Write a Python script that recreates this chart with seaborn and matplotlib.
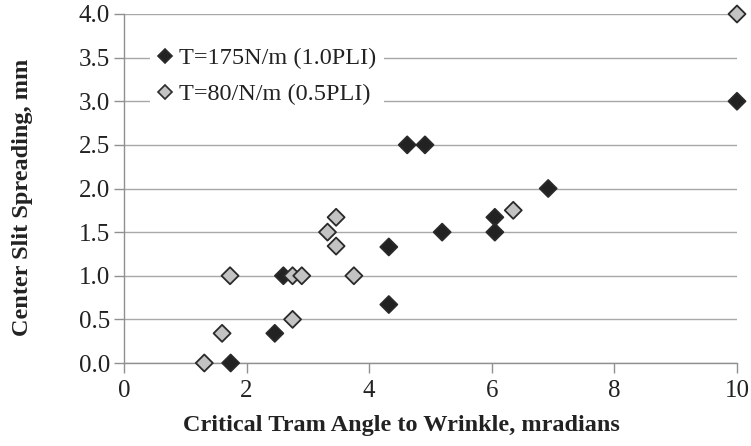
import matplotlib
matplotlib.use("Agg")
import matplotlib.pyplot as plt
import seaborn as sns
import pandas as pd
from matplotlib.ticker import FormatStrFormatter
from matplotlib.lines import Line2D

# Data
series_names = ["T=175N/m (1.0PLI)", "T=80/N/m (0.5PLI)"]
x_175 = [1.74, 2.46, 2.6, 4.32, 4.32, 4.62, 4.91, 5.19, 6.05, 6.05, 6.92, 10.0]
y_175 = [0.0, 0.34, 1.0, 1.33, 0.67, 2.5, 2.5, 1.5, 1.67, 1.5, 2.0, 3.0]
x_80 = [1.31, 1.6, 1.73, 2.75, 2.75, 2.9, 3.75, 3.32, 3.46, 3.46, 6.35, 10.0]
y_80 = [0.0, 0.34, 1.0, 0.5, 1.0, 1.0, 1.0, 1.5, 1.34, 1.67, 1.75, 4.0]
x_ticks = [0, 2, 4, 6, 8, 10]
y_ticks = [0.0, 0.5, 1.0, 1.5, 2.0, 2.5, 3.0, 3.5, 4.0]

df = pd.DataFrame({
    "x": x_175 + x_80,
    "y": y_175 + y_80,
    "series": [series_names[0]] * len(x_175) + [series_names[1]] * len(x_80),
})

sns.set_theme(style="white")
plt.rcParams["font.family"] = ["Liberation Serif", "DejaVu Serif"]

fig = plt.figure(figsize=(7.51, 4.46), dpi=100)
ax = fig.add_axes([124 / 751, 1 - 363 / 446, (737 - 124) / 751, (363 - 14) / 446])

palette = {series_names[0]: "#222222", series_names[1]: "#c3c3c3"}
sns.scatterplot(data=df, x="x", y="y", hue="series", palette=palette,
                marker="D", s=75, edgecolor="#2a2a2a", linewidth=1.3,
                ax=ax, zorder=3, clip_on=False, legend=False)

ax.set_xlim(0, 10)
ax.set_ylim(0, 4)
ax.set_xticks(x_ticks)
ax.set_yticks(y_ticks)
ax.yaxis.set_major_formatter(FormatStrFormatter("%.1f"))
ax.grid(axis="y", color="#a8a8a8", linewidth=1.0, zorder=0)
ax.grid(axis="x", visible=False)
for side in ["top", "right"]:
    ax.spines[side].set_visible(False)
for side in ["bottom", "left"]:
    ax.spines[side].set_color("#909090")
    ax.spines[side].set_linewidth(1.0)
ax.tick_params(axis="x", direction="out", length=7, width=1, color="#909090",
               labelsize=18, labelcolor="#222222", pad=5, bottom=True)
ax.tick_params(axis="y", direction="out", length=7, width=1, color="#909090",
               labelsize=18, labelcolor="#222222", pad=3, left=True)
ax.set_axisbelow(True)

ax.set_xlabel("Critical Tram Angle to Wrinkle, mradians", fontsize=17.5,
              fontweight="bold", color="#222222")
ax.set_ylabel("Center Slit Spreading, mm", fontsize=17.5, fontweight="bold",
              color="#222222")
ax.xaxis.set_label_coords((401 - 124) / 613, -(425 - 363) / 349)
ax.yaxis.set_label_coords(-(124 - 23) / 613, (363 - 197) / 349)
ax.xaxis.label.set_va("center")
ax.yaxis.label.set_va("center")

handles = [
    Line2D([], [], marker="D", linestyle="none", markersize=7.5,
           markerfacecolor=palette[series_names[0]], markeredgecolor="#2a2a2a", markeredgewidth=1.2),
    Line2D([], [], marker="D", linestyle="none", markersize=7.5,
           markerfacecolor=palette[series_names[1]], markeredgecolor="#2a2a2a", markeredgewidth=1.2),
]
leg = ax.legend(handles, series_names, loc="upper left",
                bbox_to_anchor=((150 - 124) / 613, 1 - (40 - 14) / 349),
                frameon=True, fontsize=17.5,
                handlelength=0.6, handletextpad=0.3, labelspacing=0.58,
                borderpad=0.3, fancybox=False, borderaxespad=0)
leg.get_frame().set_facecolor("white")
leg.get_frame().set_edgecolor("none")
leg.get_frame().set_alpha(1.0)
leg.set_zorder(5)
for t in leg.get_texts():
    t.set_color("#222222")

fig.savefig("out.png", dpi=100)
